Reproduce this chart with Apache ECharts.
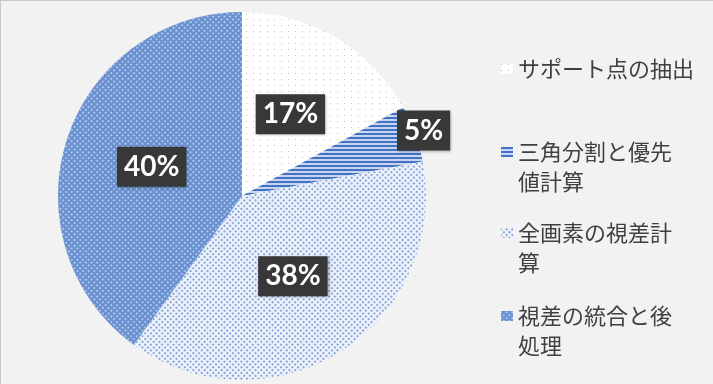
<!DOCTYPE html>
<html>
<head>
<meta charset="utf-8">
<script src="https://cdn.jsdelivr.net/npm/echarts@6/dist/echarts.min.js"></script>
<style>
html,body{margin:0;padding:0;background:#f2f2f2;}
#c{width:713px;height:384px;box-sizing:border-box;border-left:1px solid #c8c8c8;border-top:1px solid #c8c8c8;}
</style>
</head>
<body>
<div id="c"></div>
<script>
// ---- data ----
const categories = ['サポート点の抽出', '三角分割と優先値計算', '全画素の視差計算', '視差の統合と後処理'];
const values = [17, 5, 38, 40];
const legendLabels = ['サポート点の抽出', '三角分割と優先\n値計算', '全画素の視差計\n算', '視差の統合と後\n処理'];

// ---- styles ----
const sliceStyles = [
  { color: '#ffffff', decal: { symbol: 'rect', symbolSize: 1, color: 'rgba(120,145,190,0.55)', dashArrayX: [1, 6], dashArrayY: [1, 5] } },
  { color: '#c7d5ee', decal: { symbol: 'rect', symbolSize: 1, color: '#4472c4', dashArrayX: [1, 0], dashArrayY: [1.6, 1.4] } },
  { color: '#eef2fa', decal: { symbol: 'rect', symbolSize: 1, color: '#88a7dc', rotation: Math.PI / 4, dashArrayX: [2, 2], dashArrayY: [1.5, 2] } },
  { color: '#6890d0', decal: { symbol: 'rect', symbolSize: 1, color: 'rgba(195,212,240,0.75)', rotation: Math.PI / 4, dashArrayX: [1.5, 1.5], dashArrayY: [1.5, 1.5] } }
];
const labelBox = {
  color: '#ffffff', backgroundColor: '#383838', fontFamily: 'Lato', fontWeight: 'bold',
  fontSize: 28, padding: [6, 7], shadowColor: 'rgba(0,0,0,0.35)', shadowBlur: 3, shadowOffsetX: 1, shadowOffsetY: 1,
  formatter: '{d}%'
};

const center = [241, 195];
const mainData = categories.map((n, i) => ({
  name: n, value: values[i],
  itemStyle: { color: sliceStyles[i].color, decal: sliceStyles[i].decal },
  label: { show: i !== 1 }
}));
const overlayData = categories.map((n, i) => ({
  name: n, value: values[i],
  label: { show: i === 1 }
}));

const legendCenters = [68, 151, 232, 315];
const lh = 30;
const legends = categories.map((n, i) => {
  const lines = legendLabels[i].split('\n').length;
  const multi = lines > 1;
  // multi-line entries: a leading empty line keeps the first text line level with the icon
  const top = multi ? legendCenters[i] - (lines * lh + lh) / 2 : legendCenters[i] - lh / 2;
  return {
    data: [n], orient: 'vertical', left: 500, top: top, padding: 0,
    itemWidth: 12, itemHeight: 10, icon: 'rect', selectedMode: false,
    formatter: (name) => { const t = legendLabels[categories.indexOf(name)]; return t.indexOf('\n') >= 0 ? ' \n' + t : t; },
    textStyle: { fontFamily: 'Noto Sans CJK JP', fontSize: 22, lineHeight: lh, color: '#404040' }
  };
});

const chart = echarts.init(document.getElementById('c'));
chart.setOption({
  backgroundColor: '#f2f2f2',
  animation: false,
  legend: legends,
  series: [
    {
      type: 'pie', center: center, radius: 184, startAngle: 90, clockwise: true,
      label: Object.assign({ show: true, position: 'inside' }, labelBox),
      labelLine: { show: false },
      emphasis: { disabled: true },
      data: mainData
    },
    {
      type: 'pie', center: center, radius: [180, 200], startAngle: 90, clockwise: true, silent: true,
      itemStyle: { color: 'rgba(0,0,0,0)' },
      label: Object.assign({ show: false, position: 'inside' }, labelBox),
      labelLine: { show: false },
      emphasis: { disabled: true },
      data: overlayData
    }
  ]
});
</script>
</body>
</html>
